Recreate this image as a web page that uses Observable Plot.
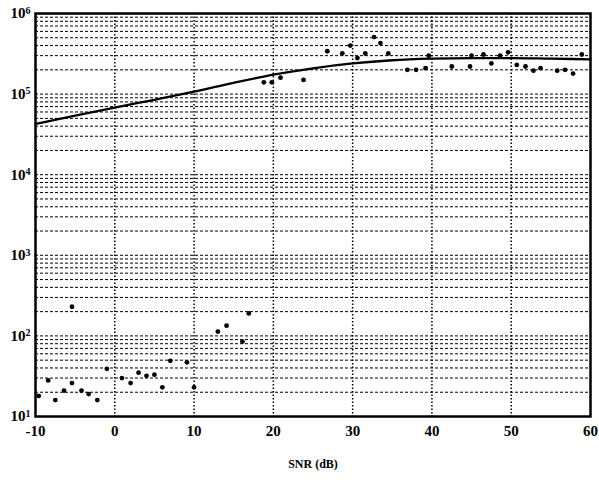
<!DOCTYPE html>
<html>
<head>
<meta charset="utf-8">
<script src="https://cdn.jsdelivr.net/npm/d3@7"></script>
<script src="https://cdn.jsdelivr.net/npm/@observablehq/plot@0.6"></script>
<style>
  html, body { margin: 0; padding: 0; background: #fff; }
  #chart { width: 599px; height: 480px; }
</style>
</head>
<body>
<div id="chart"></div>
<script>
// ---- data ----
const xTicks = [-10, 0, 10, 20, 30, 40, 50, 60];
const xGrid = [0, 10, 20, 30, 40, 50];
const yDecades = [10, 100, 1000, 10000, 100000, 1000000];
const yExponents = [1, 2, 3, 4, 5, 6];
const minorMultipliers = [1, 2, 3, 4, 5, 6, 7, 8, 9];
const xLabel = "SNR (dB)";

// solid curve
const lineX = [-10, -5, 0, 5, 10, 15, 20, 25, 30, 35, 40, 45, 50, 55, 60];
const lineY = [4.27e4, 5.4e4, 6.8e4, 8.5e4, 1.07e5, 1.38e5, 1.74e5, 2.09e5, 2.4e5, 2.63e5, 2.75e5, 2.8e5, 2.8e5, 2.75e5, 2.7e5];

// scattered points, upper cloud
const upperX = [18.8, 19.8, 20.9, 23.8, 26.8, 28.7, 29.7, 30.6, 31.6, 32.7, 33.5, 34.5, 36.9, 38.0, 39.2, 39.6, 42.5, 44.8, 45.0, 46.5, 47.5, 48.6, 49.6, 50.7, 51.8, 52.8, 53.7, 55.8, 56.8, 57.8, 58.9];
const upperY = [1.4e5, 1.4e5, 1.6e5, 1.5e5, 3.4e5, 3.2e5, 4.0e5, 2.8e5, 3.2e5, 5.1e5, 4.3e5, 3.2e5, 2.0e5, 2.0e5, 2.1e5, 3.0e5, 2.2e5, 2.2e5, 3.0e5, 3.1e5, 2.4e5, 3.0e5, 3.3e5, 2.3e5, 2.2e5, 1.95e5, 2.1e5, 1.95e5, 2.0e5, 1.8e5, 3.1e5];

// scattered points, lower cloud
const lowerX = [-9.6, -8.4, -7.5, -6.4, -5.4, -4.2, -3.3, -2.2, -1.0, 0.9, 2.0, 3.0, 4.0, 5.0, 6.0, 7.0, 9.1, 10.0, 13.0, 14.1, 16.1, 16.9, -5.4];
const lowerY = [18, 28, 16, 21, 26, 21, 19, 16, 39, 30, 26, 35, 32, 33, 23, 49, 47, 23, 113, 134, 85, 190, 230];

// ---- build tables ----
const lineData = lineX.map((x, i) => ({x, y: lineY[i]}));
const pts = upperX.map((x, i) => ({x, y: upperY[i]}))
  .concat(lowerX.map((x, i) => ({x, y: lowerY[i]})));
const yGrid = [];
yDecades.slice(0, -1).forEach(d => minorMultipliers.forEach(m => yGrid.push(d * m)));

const chart = Plot.plot({
  width: 599,
  height: 480,
  marginLeft: 35,
  marginRight: 9,
  marginTop: 13,
  marginBottom: 64,
  style: {fontFamily: "'Liberation Serif', 'Times New Roman', serif", fontWeight: "bold", fontSize: "15px", color: "#000", background: "#fff"},
  x: {domain: [-10, 60]},
  y: {type: "log", domain: [10, 1e6]},
  marks: [
    Plot.gridY(yGrid, {stroke: "#000", strokeOpacity: 1, strokeWidth: 1, strokeDasharray: "3,2"}),
    Plot.gridX(xGrid, {stroke: "#000", strokeOpacity: 1, strokeWidth: 1.5, strokeDasharray: "1.5,2"}),
    Plot.axisX(xTicks, {tickSize: 0, tickPadding: 9, label: null, tickFormat: d => d}),
    Plot.axisY(yDecades, {tickSize: 0, tickPadding: 5, label: null,
      tickFormat: d => "10^" + yExponents[yDecades.indexOf(d)]}),
    Plot.line(lineData, {x: "x", y: "y", stroke: "#000", strokeWidth: 2.3, curve: "monotone-x"}),
    Plot.dot(pts, {x: "x", y: "y", r: 2.4, fill: "#000", stroke: "none"}),
    Plot.frame({stroke: "#000", strokeWidth: 2.5}),
    Plot.text([xLabel], {text: d => d, frameAnchor: "bottom", dy: 51, fontSize: 12, fontWeight: "bold"})
  ]
});

// render y tick labels as 10 with a raised exponent
d3.select(chart).selectAll('g[aria-label="y-axis tick label"] text').each(function() {
  const t = this.textContent;
  const parts = t.split("^");
  if (parts.length === 2) {
    const sel = d3.select(this);
    sel.text(parts[0]);
    sel.append("tspan").attr("dy", "-0.45em").attr("font-size", "10px").text(parts[1]);
  }
});

document.getElementById("chart").appendChild(chart);
</script>
</body>
</html>
